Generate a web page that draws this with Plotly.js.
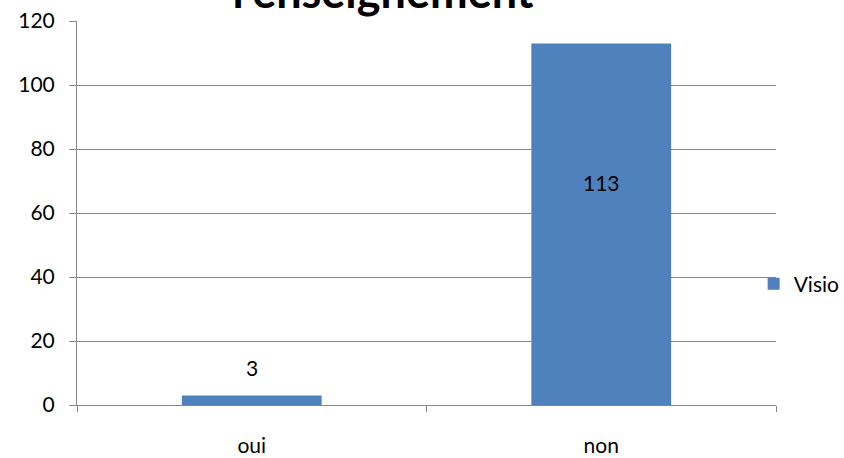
<!DOCTYPE html>
<html>
<head>
<meta charset="utf-8">
<script src="https://cdn.plot.ly/plotly-3.0.1.min.js"></script>
<style>html,body{margin:0;padding:0;background:#fff;}#chart{width:844px;height:458px;}</style>
</head>
<body>
<div id="chart"></div>
<script>
const categories = ["oui", "non"];
const visioValues = [3, 113];
const seriesName = "Visio";
const titleText = "l'enseignement";
const yTicks = [0, 20, 40, 60, 80, 100, 120];

const FONT = "Lato, 'Open Sans', sans-serif";
const FS = 21;
// label placement styles (offsets in px relative to bar top)
const labelStyles = [
  {yanchor: "bottom", yshift: 13},
  {yanchor: "middle", yshift: -139}
];

const trace = {
  type: "bar",
  x: categories,
  y: visioValues,
  name: seriesName,
  width: 0.4,
  marker: {color: "#4F81BD"},
  hoverinfo: "none"
};
const annotations = categories.map((c, i) => ({
  x: c, y: visioValues[i], xref: "x", yref: "y",
  text: String(visioValues[i]), showarrow: false,
  xanchor: "center", yanchor: labelStyles[i].yanchor, yshift: labelStyles[i].yshift,
  font: {family: FONT, size: FS, color: "#000"}
}));
const layout = {
  width: 844, height: 458,
  margin: {l: 77, r: 68, t: 21, b: 53, autoexpand: false},
  paper_bgcolor: "#fff", plot_bgcolor: "#fff",
  font: {family: FONT, size: FS, color: "#000"},
  title: {
    text: titleText,
    font: {family: FONT, size: 45, color: "#000", weight: "bold"},
    xref: "paper", x: (383 - 77) / 699, xanchor: "center",
    yref: "container", y: 1 - 8 / 458, yanchor: "bottom"
  },
  xaxis: {
    type: "category", range: [-0.5, 1.5],
    showgrid: false, showline: true, linecolor: "#868686", linewidth: 1,
    ticks: "outside", tickson: "boundaries", ticklen: 6, tickcolor: "#868686",
    ticklabelstandoff: 22,
    tickfont: {family: FONT, size: FS, color: "#000"}, zeroline: false
  },
  yaxis: {
    range: [0, 120], tickvals: yTicks,
    showgrid: true, gridcolor: "#868686", gridwidth: 1,
    showline: true, linecolor: "#868686", linewidth: 1,
    ticks: "outside", ticklen: 7, tickcolor: "#868686",
    ticklabelstandoff: 10,
    tickfont: {family: FONT, size: FS, color: "#000"}, zeroline: false
  },
  annotations: annotations,
  showlegend: true,
  legend: {
    x: 0.968, xanchor: "left", y: (405 - 284) / 384, yanchor: "middle",
    font: {family: FONT, size: FS, color: "#000"},
    bgcolor: "rgba(0,0,0,0)", itemwidth: 30, tracegroupgap: 0
  },
  bargap: 0.6
};
Plotly.newPlot("chart", [trace], layout, {staticPlot: true, displayModeBar: false});
</script>
</body>
</html>
